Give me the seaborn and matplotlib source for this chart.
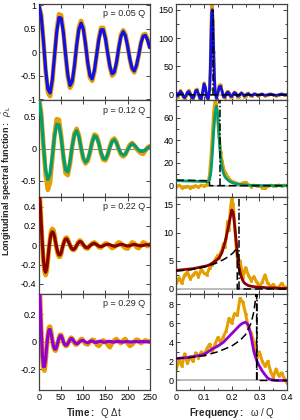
import numpy as np
import matplotlib
matplotlib.use("Agg")
import matplotlib.pyplot as plt
import seaborn as sns
from matplotlib.ticker import MultipleLocator, FuncFormatter, AutoMinorLocator

# ---- data ----
p_labels = ["0.05", "0.12", "0.22", "0.29"]
colors = ["#1010e8", "#009e73", "#8b0000", "#9400d3"]
orange = "#e69f00"

# time axis (Q dt)
t_a = np.arange(0, 251, 5)
t_b = np.concatenate([np.arange(0, 100.1, 2.5), np.arange(105, 251, 5)])

rho_t1 = [1.00, 0.77, 0.24, -0.37, -0.79, -0.87, -0.59, -0.08, 0.43, 0.74, 0.73, 0.42, -0.05,
          -0.48, -0.71, -0.62, -0.29, 0.15, 0.49, 0.62, 0.49, 0.17, -0.22, -0.50, -0.57, -0.39,
          -0.06, 0.27, 0.48, 0.48, 0.29, -0.02, -0.30, -0.46, -0.42, -0.21, 0.09, 0.34, 0.44,
          0.35, 0.13, -0.14, -0.34, -0.40, -0.28, -0.06, 0.19, 0.34, 0.36, 0.26, 0.10]
lat_t1 = [1.00, 0.80, 0.25, -0.40, -0.85, -0.94, -0.64, -0.09, 0.47, 0.81, 0.79, 0.45, -0.06,
          -0.52, -0.76, -0.67, -0.31, 0.16, 0.53, 0.67, 0.53, 0.18, -0.24, -0.54, -0.61, -0.42,
          -0.07, 0.29, 0.52, 0.52, 0.31, -0.02, -0.32, -0.50, -0.45, -0.23, 0.10, 0.37, 0.47,
          0.38, 0.14, -0.15, -0.36, -0.43, -0.30, -0.07, 0.20, 0.37, 0.39, 0.28, 0.11]

rho_t2 = [0.78, 0.52, 0.06, -0.33, -0.48, -0.39, -0.12, 0.19, 0.38, 0.37, 0.17, -0.11, -0.33,
          -0.36, -0.20, 0.04, 0.22, 0.28, 0.19, 0.01, -0.14, -0.21, -0.17, -0.05, 0.10, 0.20,
          0.18, 0.08, -0.06, -0.15, -0.16, -0.09, 0.02, 0.11, 0.14, 0.09, 0.00, -0.07, -0.10,
          -0.08, -0.02, 0.04, 0.08, 0.06, 0.02, -0.02, -0.04, -0.04, -0.02, 0.01, 0.03]
lat_t2 = [0.80, 0.55, 0.05, -0.40, -0.64, -0.52, -0.16, 0.22, 0.46, 0.45, 0.20, -0.13, -0.38,
          -0.41, -0.23, 0.04, 0.24, 0.31, 0.21, 0.01, -0.16, -0.23, -0.19, -0.06, 0.11, 0.22,
          0.20, 0.09, -0.07, -0.17, -0.18, -0.10, 0.03, 0.13, 0.16, 0.10, -0.01, -0.09, -0.12,
          -0.09, -0.01, 0.06, 0.09, 0.05, 0.00, -0.04, -0.07, -0.08, -0.03, 0.02, 0.04]

rho_t3 = [0.56, 0.44, 0.23, 0.02, -0.15, -0.25, -0.28, -0.24, -0.14, -0.03, 0.06, 0.12, 0.14,
          0.13, 0.09, 0.03, -0.03, -0.075, -0.10, -0.10, -0.08, -0.03, 0.01, 0.045, 0.064, 0.066,
          0.05, 0.025, 0.0, -0.024, -0.039, -0.044, -0.038, -0.023, -0.003, 0.017, 0.032, 0.04,
          0.035, 0.023, 0.006,
          -0.022, -0.026, -0.007, 0.013, 0.02, 0.007, -0.009, -0.014, -0.006, 0.006, 0.01, 0.006,
          -0.004, -0.01, -0.006, 0.003, 0.01, 0.006, -0.002, -0.008, -0.005, 0.004, 0.008, 0.004,
          -0.003, -0.006, -0.002, 0.004, 0.005, 0.002]
lat_t3 = [0.58, 0.46, 0.24, 0.02, -0.17, -0.28, -0.31, -0.27, -0.16, -0.03, 0.07, 0.15, 0.17,
          0.16, 0.11, 0.03, -0.04, -0.09, -0.12, -0.12, -0.09, -0.03, 0.01, 0.05, 0.075, 0.08,
          0.06, 0.03, 0.0, -0.03, -0.045, -0.05, -0.045, -0.03, 0.0, 0.025, 0.04, 0.05, 0.04,
          0.02, 0.0,
          -0.03, -0.035, 0.0, 0.02, 0.03, 0.01, -0.02, -0.025, 0.0, 0.02, 0.015, -0.01, -0.03,
          -0.02, 0.01, 0.03, 0.02, -0.01, -0.03, -0.035, 0.0, 0.03, 0.02, -0.02, -0.03, 0.0,
          0.03, 0.02, -0.01, 0.01]

rho_t4 = [0.45, 0.30, 0.09, -0.09, -0.18, -0.18, -0.12, -0.03, 0.045, 0.087, 0.089, 0.057,
          0.011, -0.029, -0.051, -0.054, -0.035, -0.005, 0.025, 0.043, 0.044, 0.025, 0.001,
          -0.017, -0.025, -0.024, -0.014, 0.001, 0.016, 0.024, 0.02, 0.01, -0.002, -0.011,
          -0.015, -0.013, -0.006, 0.002, 0.008, 0.01, 0.009,
          -0.002, -0.008, 0.002, 0.006, -0.004, -0.005, 0.003, 0.004, -0.003, -0.003, 0.002,
          0.003, -0.002, -0.002, 0.002, 0.002, -0.001, -0.002, 0.001, 0.001, -0.001, -0.001,
          0.001, 0.001, 0.0, 0.0, 0.001, 0.0, 0.0, 0.0]
lat_t4 = [0.47, 0.32, 0.10, -0.11, -0.20, -0.21, -0.14, -0.04, 0.05, 0.105, 0.11, 0.07, 0.013,
          -0.035, -0.06, -0.065, -0.04, -0.006, 0.03, 0.05, 0.05, 0.03, 0.0, -0.02, -0.03, -0.03,
          -0.015, 0.005, 0.02, 0.03, 0.025, 0.01, -0.01, -0.02, -0.02, -0.01, 0.0, 0.01, 0.02,
          0.02, 0.005,
          -0.015, -0.02, 0.0, 0.015, 0.01, -0.02, -0.03, -0.01, 0.01, 0.0, -0.02, -0.04, -0.01,
          0.01, 0.02, 0.0, -0.01, 0.01, 0.02, -0.01, -0.03, -0.02, 0.0, 0.015, 0.01, -0.01, 0.0,
          0.01, 0.005, 0.0]

# frequency axis (omega / Q)
w1 = np.concatenate([np.arange(0, 0.1201, 0.005), np.arange(0.1225, 0.1401, 0.0025),
                     np.arange(0.145, 0.3001, 0.005), np.arange(0.31, 0.4001, 0.01)])
rho_w1 = [3, -2, 2, 6, 3, -3, -5, -1, 4, 6, 2, -4, -6, -1, 7, 8, 1, -6, -7, 5, 19, 12, -4, -7, 8,
          40, 95, 145, 150, 120, 70, 30, 5,
          -6, 4, 14, 15, 6, -3, -4, 2, 5, 3, -2, -3, 1, 4, 2, -2, -2, 1, 3, 1, -2, -1, 1, 2, 0,
          -1, -1, 1, 1, 0, -1, 0,
          1, -1, 0, 1, 0, -1, 0, 1, 0, 0]
lat_w1 = [4, -3, 3, 8, 4, -4, -7, -2, 5, 8, 3, -5, -8, -2, 9, 10, 1, -8, -9, 6, 21, 14, -5, -9, 10,
          50, 115, 158, 158, 130, 75, 32, 4,
          -8, 5, 17, 18, 7, -4, -5, 3, 6, 4, -3, -4, 2, 5, 3, -3, -3, 1, 4, 2, -3, -2, 2, 3, 0,
          -2, -2, 2, 2, 0, -2, 0,
          2, -2, 0, 2, 0, -2, 0, 2, 0, 0]

w2 = np.concatenate([np.arange(0, 0.1101, 0.01), np.arange(0.115, 0.2001, 0.005),
                     np.arange(0.21, 0.4001, 0.01)])
rho_w2 = [4.4, 4.3, 4.2, 4.1, 4.1, 4.0, 3.9, 3.9, 3.8, 3.7, 3.6, 3.5,
          3.5, 5, 12, 28, 48, 64, 70, 62, 40, 24, 16, 11, 8, 6.5, 5.2, 4.2, 3.4, 2.8,
          2.0, 1.5, 1.1, 0.8, 0.6, 0.4, 0.3, 0.2, 0.2, 0.1, 0.1, 0.1, 0.1, 0.0, 0.0, 0.0, 0.0,
          0.0, 0.0, 0.0]
lat_w2 = [-1.0, 0.5, -2.0, -1.5, -0.5, -2.5, -1.0, 0.0, -1.5, 0.5, -0.5, 1.0,
          3, 10, 25, 45, 65, 75, 72, 55, 42, 30, 22, 16, 12, 10, 8, 6, 5, 4,
          3.0, 2.0, 1.0, 2.5, 3.0, 1.0, -1.0, 0.5, -0.5, 0.0, -2.0, -2.5, -0.5, 0.5, -0.5, 0.0,
          0.5, -0.5, 0.5, 0.0]

w3 = np.concatenate([np.arange(0, 0.1501, 0.01), np.arange(0.155, 0.2501, 0.005),
                     np.arange(0.26, 0.4001, 0.01)])
rho_w3 = [3.3, 3.35, 3.4, 3.45, 3.5, 3.55, 3.6, 3.7, 3.8, 3.9, 4.0, 4.1, 4.3, 4.6, 4.9, 5.3,
          5.6, 6.0, 6.5, 7.3, 8.2, 9.2, 10.3, 11.5, 12.8, 14.0, 13.6, 11.5, 9.0, 6.5, 4.3, 3.0,
          2.1, 1.5, 1.1, 0.9,
          0.6, 0.5, 0.4, 0.35, 0.3, 0.3, 0.25, 0.2, 0.2, 0.2, 0.15, 0.15, 0.1, 0.1, 0.1]
lat_w3 = [1.0, 2.0, 1.0, 2.5, 3.0, 1.8, 2.5, 3.0, 2.2, 3.5, 2.8, 2.5, 3.8, 4.3, 5.2, 6.0,
          5.5, 6.5, 7.0, 8.0, 7.5, 9.0, 12.0, 10.5, 14.0, 16.0, 15.0, 12.0, 8.0, 5.5, 4.0, 5.0,
          3.5, 2.0, 3.0, 3.8,
          2.5, 1.5, 2.2, 1.2, 0.5, 1.2, 2.5, 1.0, 0.4, 0.8, 0.2, 0.3, 1.0, 0.4, 0.2]

w4 = np.arange(0, 0.4001, 0.01)
rho_w4 = [2.3, 2.32, 2.35, 2.38, 2.4, 2.45, 2.5, 2.55, 2.6, 2.65, 2.75, 2.9, 3.1, 3.3, 3.45,
          3.6, 3.8, 4.0, 4.3, 4.6, 4.9, 5.2, 5.5, 5.8, 6.0, 6.1, 5.8, 4.6, 3.0, 2.1, 1.5, 1.0,
          0.6, 0.25, 0.1, 0.05, 0.0, 0.0, 0.0, 0.0, 0.0]
lat_w4 = [1.2, 2.2, 1.5, 2.8, 1.8, 2.5, 2.0, 2.9, 2.4, 3.0, 2.7, 3.3, 3.8, 3.0, 3.8, 4.5, 4.0,
          4.6, 5.2, 6.5, 6.0, 7.0, 6.8, 8.6, 8.2, 7.0, 5.5, 5.0, 4.0, 2.5, 3.0, 2.0, 1.5, 2.0,
          1.0, 0.3, 1.2, 0.5, 0.8, 0.2, -0.3]

# HTL reference: Landau-cut continuum and plasmon pole
htl_w = [[0, 0.02, 0.04, 0.05, 0.05, 0.4],
         [0, 0.03, 0.06, 0.09, 0.114, 0.12, 0.12, 0.4],
         [0, 0.05, 0.1, 0.14, 0.17, 0.19, 0.205, 0.215, 0.22, 0.22, 0.4],
         [0, 0.05, 0.1, 0.15, 0.2, 0.23, 0.25, 0.26, 0.27, 0.28, 0.285, 0.29, 0.29, 0.4]]
htl_rho = [[0.3, 0.4, 0.6, 0.8, 0, 0],
           [4.8, 4.7, 4.6, 4.5, 4.4, 4.3, 0, 0],
           [3.2, 3.4, 3.9, 4.5, 5.2, 5.8, 6.4, 7.0, 7.3, 0, 0],
           [2.3, 2.4, 2.6, 3.0, 3.6, 4.2, 4.8, 5.4, 6.0, 7.2, 8.3, 9.6, 0, 0]]
pole_w = [0.131, 0.156, 0.227, 0.29]
pole_h = [150, 80, 20, 10]

time_sets = [(t_a, rho_t1, lat_t1), (t_a, rho_t2, lat_t2), (t_b, rho_t3, lat_t3), (t_b, rho_t4, lat_t4)]
freq_sets = [(w1, rho_w1, lat_w1), (w2, rho_w2, lat_w2), (w3, rho_w3, lat_w3), (w4, rho_w4, lat_w4)]

left_ylim = [(-1.03, 1.03), (-0.75, 0.75), (-0.5, 0.5), (-0.35, 0.35)]
left_ystep = [0.5, 0.5, 0.2, 0.2]
right_ylim = [(-10, 160), (-10, 75), (-0.8, 16.3), (-1.0, 9.1)]
right_ystep = [50, 20, 5, 2]

# ---- style ----
sns.set_theme(style="ticks")
plt.rcParams['font.family'] = ['Liberation Sans', 'DejaVu Sans']
plt.rcParams['mathtext.fontset'] = 'custom'
plt.rcParams['mathtext.rm'] = 'Liberation Sans'
plt.rcParams['mathtext.it'] = 'Liberation Sans:italic'
plt.rcParams['mathtext.bf'] = 'Liberation Sans:bold'
plt.rcParams['axes.unicode_minus'] = False

fig, axes = plt.subplots(4, 2, figsize=(3, 4.2), dpi=100)
fig.subplots_adjust(left=0.13, right=0.957, bottom=0.0714, top=0.9905, hspace=0, wspace=0.24)

fmt = FuncFormatter(lambda v, pos: f"{v:g}")

for i in range(4):
    axL, axR = axes[i, 0], axes[i, 1]

    # time domain
    t, rho, lat = time_sets[i]
    axL.axhline(0, color="#888888", lw=0.8, zorder=1)
    sns.lineplot(x=t, y=lat, ax=axL, color=orange, lw=3.3, sort=False, estimator=None, zorder=2)
    sns.lineplot(x=t, y=rho, ax=axL, color=colors[i], lw=2.3, sort=False, estimator=None, zorder=3)
    axL.set_xlim(0, 250)
    axL.set_ylim(*left_ylim[i])
    axL.xaxis.set_major_locator(MultipleLocator(50))
    axL.yaxis.set_major_locator(MultipleLocator(left_ystep[i]))
    axL.text(0.96, 0.9, f"p = {p_labels[i]} Q", transform=axL.transAxes, ha="right", va="center",
             fontsize=6.5)

    # frequency domain
    w, rho, lat = freq_sets[i]
    axR.axhline(0, color="#b0b0b0", lw=1.2, zorder=1)
    sns.lineplot(x=w, y=lat, ax=axR, color=orange, lw=2.2, marker="o", markersize=2.2,
                 markeredgewidth=0, sort=False, estimator=None, zorder=2)
    sns.lineplot(x=w, y=rho, ax=axR, color=colors[i], lw=2.0, sort=False, estimator=None, zorder=3)
    axR.plot(htl_w[i], htl_rho[i], color="black", lw=1.1, dashes=(5, 2.5), zorder=4)
    axR.plot([pole_w[i], pole_w[i]], [0, pole_h[i]], color="black", lw=1.1,
             dashes=(5, 1.5, 1, 1.5), zorder=4)
    axR.set_xlim(0, 0.4)
    axR.set_ylim(*right_ylim[i])
    axR.xaxis.set_major_locator(MultipleLocator(0.1))
    axR.xaxis.set_minor_locator(MultipleLocator(0.05))
    axR.yaxis.set_major_locator(MultipleLocator(right_ystep[i]))
    axR.yaxis.set_minor_locator(AutoMinorLocator(2))

    for ax in (axL, axR):
        ax.set_xlabel("")
        ax.set_ylabel("")
        ax.xaxis.set_major_formatter(fmt)
        ax.yaxis.set_major_formatter(fmt)
        ax.tick_params(which="both", direction="in", top=True, right=True, width=0.6,
                       labelsize=6.5, pad=2, colors="#222222")
        ax.tick_params(which="major", length=3)
        ax.tick_params(which="minor", length=1.8)
        ax.tick_params(axis="y", labelcolor="black")
        ax.tick_params(axis="x", labelbottom=(i == 3), labelcolor="black")
        for s in ax.spines.values():
            s.set_color("#444444")
            s.set_linewidth(0.9)

axes[3, 0].set_xlabel(r"$\mathbf{Time:}$  Q Δt", fontsize=7, labelpad=3)
axes[3, 1].set_xlabel(r"$\mathbf{Frequency:}$  ω / Q", fontsize=7, labelpad=3)
fig.text(0.022, 0.57, r"$\mathbf{Longitudinal\ spectral\ function:}\ \ \dot{\rho}_{\mathrm{L}}$",
         rotation=90, ha="center", va="center", fontsize=6.5)

fig.savefig("out.png", dpi=100)
